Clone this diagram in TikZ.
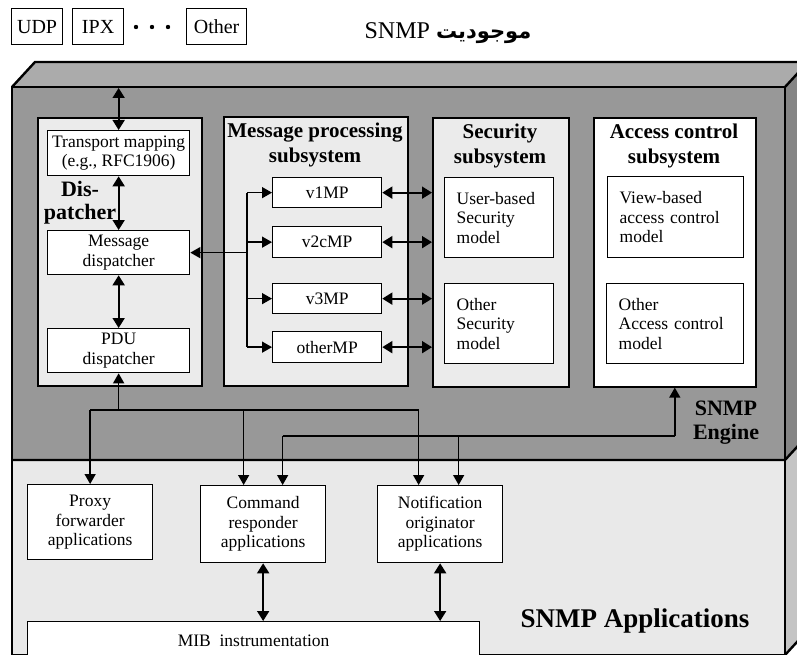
\documentclass[tikz,border=0pt]{standalone}
\usepackage{fontspec}
\setmainfont{Liberation Serif}
\newfontfamily\farsifont[Script=Arabic]{DejaVu Sans}
\TeXXeTstate=1
\usetikzlibrary{arrows.meta}

\definecolor{topface}{HTML}{ABABAB}
\definecolor{enginefront}{HTML}{989898}
\definecolor{engineside}{HTML}{858585}
\definecolor{appfront}{HTML}{E9E9E9}
\definecolor{appside}{HTML}{C4C4C4}
\definecolor{subfill}{HTML}{EBEBEB}

\newcommand\txtbody{\fontsize{17.5}{19.5}\selectfont}
\newcommand\txttitle{\fontsize{21}{24.5}\selectfont\bfseries}

\tikzset{
  outline/.style={line width=2.4pt, line join=miter},
  box/.style={draw, fill=white, line width=1.3pt, inner sep=0pt, align=center,
              anchor=north west, font=\txtbody},
  leftbox/.style={box, align=left, inner xsep=12pt},
  subsys/.style={draw, fill=subfill, line width=1.6pt, inner sep=0pt, anchor=north west},
  titletext/.style={font=\txttitle, align=center, inner sep=0pt, anchor=north},
  proto/.style={draw, line width=1.2pt, inner sep=0pt, anchor=north west,
                minimum height=36pt, font=\fontsize{20}{22}\selectfont},
  conn/.style={line width=1.4pt},
  onearrow/.style={conn, -{Triangle[length=10pt,width=11pt]}},
  backarrow/.style={conn, {Triangle[length=10pt,width=11pt]}-},
  twoarrow/.style={line width=1.7pt,
    {Triangle[length=10pt,width=12pt]}-{Triangle[length=10pt,width=12pt]}},
}

\begin{document}
\begin{tikzpicture}[x=1pt, y=-1pt]
\useasboundingbox (0,0) rectangle (797,655);

% transport protocols above the entity
\node[proto, minimum width=51pt] (udp) at (11,8) {UDP};
\node[proto, minimum width=51pt] (ipx) at (72,8) {IPX};
\fill (136,27) circle (2.2pt) (152,27) circle (2.2pt) (168,27) circle (2.2pt);
\node[proto, minimum width=60pt] (oth) at (186,8) {Other};

% heading
\node[font=\fontsize{24}{26}\selectfont, inner sep=0pt] (title) at (448,33)
  {\beginR{\farsifont\bfseries\fontsize{21}{26}\selectfont موجودیت} \beginL SNMP\endL\endR};

% the SNMP entity drawn as a block
\fill[topface] (12,87) -- (35,62) -- (808,62) -- (785,87) -- cycle;
\fill[engineside] (785,87) -- (808,62) -- (808,435) -- (785,460) -- cycle;
\fill[appside] (785,460) -- (808,435) -- (808,630) -- (785,655) -- cycle;
\fill[enginefront] (12,87) rectangle (785,460);
\fill[appfront] (12,460) rectangle (785,655);
\draw[outline] (12,87) -- (35,62) -- (808,62);
\draw[outline] (785,87) -- (808,62);
\draw[outline] (12,87) rectangle (785,655);
\draw[outline] (12,460) -- (785,460) -- (808,435);
\draw[outline] (785,655) -- (808,630);

% dispatcher
\node[subsys, minimum width=164pt, minimum height=268pt] (disp) at (37,117) {};
\node[box, minimum width=142pt, minimum height=45pt] (tm) at (47,130) {Transport mapping\\(e.g., RFC1906)};
\node[box, minimum width=142pt, minimum height=44pt] (md) at (47,230) {Message\\dispatcher};
\node[box, minimum width=142pt, minimum height=44pt] (pdu) at (47,328) {PDU\\dispatcher};
\node[titletext, font=\fontsize{22}{23}\selectfont\bfseries] (displabel) at (80,181) {Dis-\\patcher};

% message processing subsystem
\node[subsys, minimum width=184pt, minimum height=269pt] (mp) at (223,116) {};
\node[titletext] (mptitle) at (315,123) {Message processing\\subsystem};
\node[box, minimum width=109pt, minimum height=30pt] (v1) at (272,177) {v1MP};
\node[box, minimum width=109pt, minimum height=31pt] (v2c) at (272,226) {v2cMP};
\node[box, minimum width=109pt, minimum height=30pt] (v3) at (272,283) {v3MP};
\node[box, minimum width=109pt, minimum height=31pt] (othmp) at (272,331) {otherMP};

% security subsystem
\node[subsys, minimum width=136pt, minimum height=269pt] (sec) at (432,117) {};
\node[titletext] (sectitle) at (500,124) {Security\\subsystem};
\node[leftbox, minimum width=109pt, minimum height=80pt, text width=85pt] (usm) at (444,177) {User-based\\Security\\model};
\node[leftbox, minimum width=109pt, minimum height=80pt, text width=85pt] (osm) at (444,283) {Other\\Security\\model};

% access control subsystem
\node[subsys, fill=white, minimum width=162pt, minimum height=269pt] (acc) at (593,117) {};
\node[titletext] (acctitle) at (674,124) {Access control\\subsystem};
\node[leftbox, minimum width=136pt, minimum height=81pt, text width=112pt] (vacm) at (607,176) {View-based\\access control\\model};
\node[leftbox, minimum width=137pt, minimum height=80pt, text width=113pt] (oacm) at (606,283) {Other\\Access control\\model};

\node[titletext, font=\fontsize{22}{24}\selectfont\bfseries] (englabel) at (726,401) {SNMP\\Engine};

% applications
\node[box, minimum width=125pt, minimum height=75pt] (proxy) at (27,484) {Proxy\\forwarder\\applications};
\node[box, minimum width=125pt, minimum height=77pt] (cmd) at (200,485) {Command\\responder\\applications};
\node[box, minimum width=125pt, minimum height=77pt] (notif) at (377,485) {Notification\\originator\\applications};
\node[box, minimum width=452pt, minimum height=38pt] (mib) at (27,621) {MIB\ \ instrumentation};
\node[font=\fontsize{27}{30}\selectfont\bfseries, inner sep=0pt, anchor=base] (applabel) at (635,627) {SNMP Applications};

% dispatcher chain
\coordinate (topin) at (0,88);
\draw[twoarrow] (tm.north |- topin) -- (tm.north);
\draw[twoarrow] (tm.south) -- (md.north);
\draw[twoarrow] (md.south) -- (pdu.north);

% message dispatcher to the message processing models
\coordinate (bus) at (247,0);
\draw[conn] (bus |- v1.west) -- (bus |- othmp.west);
\draw[backarrow] (md.east) -- (bus |- md.east);
\foreach \m in {v1,v2c,v3,othmp} {
  \draw[onearrow] (bus |- \m.west) -- (\m.west);
  \draw[twoarrow] (\m.east) -- (\m.east -| sec.west);
}

% engine to applications
\coordinate (rowA) at (0,410);
\coordinate (rowB) at (0,436);
\coordinate (cmdA) at ([xshift=-19.5pt]cmd.north);
\coordinate (cmdB) at ([xshift=19.5pt]cmd.north);
\coordinate (notA) at ([xshift=-21.5pt]notif.north);
\coordinate (notB) at ([xshift=18.5pt]notif.north);
\draw[conn] (proxy.north |- rowA) -- (notA |- rowA);
\draw[onearrow] (pdu.south |- rowA) -- (pdu.south);
\draw[onearrow] (proxy.north |- rowA) -- (proxy.north);
\draw[onearrow] (cmdA |- rowA) -- (cmdA);
\draw[onearrow] (notA |- rowA) -- (notA);
\draw[conn] (cmdB |- rowB) -- (acc.south |- rowB);
\draw[onearrow] (acc.south |- rowB) -- (acc.south);
\draw[onearrow] (cmdB |- rowB) -- (cmdB);
\draw[onearrow] (notB |- rowB) -- (notB);

% applications to MIB instrumentation
\draw[twoarrow] (cmd.south) -- (cmd.south |- mib.north);
\draw[twoarrow] (notif.south) -- (notif.south |- mib.north);
\end{tikzpicture}
\end{document}
